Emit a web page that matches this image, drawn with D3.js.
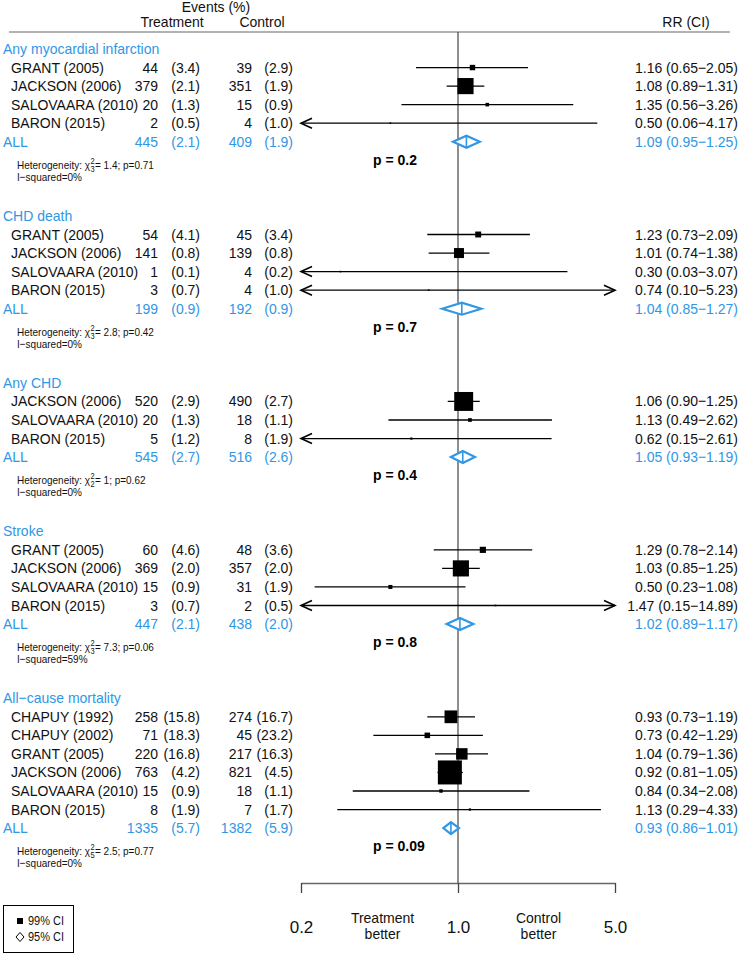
<!DOCTYPE html>
<html><head><meta charset="utf-8">
<script src="https://cdn.jsdelivr.net/npm/d3@7"></script>
<style>
body{margin:0;background:#fff}
svg{display:block}
text{font-family:"Liberation Sans",Arial,Helvetica,sans-serif}
</style>
</head><body>
<svg id="chart" width="740" height="955"></svg>
<script>
// ---------------- DATA ----------------
const categories = ["Any myocardial infarction", "CHD death", "Any CHD", "Stroke", "All\u2212cause mortality"];
const studies = [
  ["GRANT (2005)", "JACKSON (2006)", "SALOVAARA (2010)", "BARON (2015)"],
  ["GRANT (2005)", "JACKSON (2006)", "SALOVAARA (2010)", "BARON (2015)"],
  ["JACKSON (2006)", "SALOVAARA (2010)", "BARON (2015)"],
  ["GRANT (2005)", "JACKSON (2006)", "SALOVAARA (2010)", "BARON (2015)"],
  ["CHAPUY (1992)", "CHAPUY (2002)", "GRANT (2005)", "JACKSON (2006)", "SALOVAARA (2010)", "BARON (2015)"]
];
const trtEvents = [[44, 379, 20, 2], [54, 141, 1, 3], [520, 20, 5], [60, 369, 15, 3], [258, 71, 220, 763, 15, 8]];
const trtPct    = [[3.4, 2.1, 1.3, 0.5], [4.1, 0.8, 0.1, 0.7], [2.9, 1.3, 1.2], [4.6, 2.0, 0.9, 0.7], [15.8, 18.3, 16.8, 4.2, 0.9, 1.9]];
const ctlEvents = [[39, 351, 15, 4], [45, 139, 4, 4], [490, 18, 8], [48, 357, 31, 2], [274, 45, 217, 821, 18, 7]];
const ctlPct    = [[2.9, 1.9, 0.9, 1.0], [3.4, 0.8, 0.2, 1.0], [2.7, 1.1, 1.9], [3.6, 2.0, 1.9, 0.5], [16.7, 23.2, 16.3, 4.5, 1.1, 1.7]];
const rr        = [[1.16, 1.08, 1.35, 0.50], [1.23, 1.01, 0.30, 0.74], [1.06, 1.13, 0.62], [1.29, 1.03, 0.50, 1.47], [0.93, 0.73, 1.04, 0.92, 0.84, 1.13]];
const rrLo      = [[0.65, 0.89, 0.56, 0.06], [0.73, 0.74, 0.03, 0.10], [0.90, 0.49, 0.15], [0.78, 0.85, 0.23, 0.15], [0.73, 0.42, 0.79, 0.81, 0.34, 0.29]];
const rrHi      = [[2.05, 1.31, 3.26, 4.17], [2.09, 1.38, 3.07, 5.23], [1.25, 2.62, 2.61], [2.14, 1.25, 1.08, 14.89], [1.19, 1.29, 1.36, 1.05, 2.08, 4.33]];
const weights   = [[11.6, 103, 5.0, 0.9], [13.9, 39.6, 0.7, 1.0], [142, 5.5, 1.9], [15.1, 103, 6.4, 0.7], [64.3, 12.2, 52, 228, 4.7, 2.1]];

const allTrt    = [445, 199, 545, 447, 1335];
const allTrtPct = [2.1, 0.9, 2.7, 2.1, 5.7];
const allCtl    = [409, 192, 516, 438, 1382];
const allCtlPct = [1.9, 0.9, 2.6, 2.0, 5.9];
const pooledRR  = [1.09, 1.04, 1.05, 1.02, 0.93];
const pooledLo  = [0.95, 0.85, 0.93, 0.89, 0.86];
const pooledHi  = [1.25, 1.27, 1.19, 1.17, 1.01];
const pValues   = ["0.2", "0.7", "0.4", "0.8", "0.09"];
const hetChi    = ["1.4", "2.8", "1", "7.3", "2.5"];
const hetDf     = [3, 3, 2, 3, 5];
const hetP      = ["0.71", "0.42", "0.62", "0.06", "0.77"];
const iSquared  = [0, 0, 0, 59, 0];

const axisTicks = [0.2, 1.0, 5.0];
const axisDomain = [0.2, 5];
const betterLabels = [["Treatment", "better"], ["Control", "better"]];
const legendItems = ["99% CI", "95% CI"];

// ---------------- LAYOUT ----------------
const BLUE = "#2f97e6";
const svg = d3.select("#chart");
const x = d3.scaleLog().domain(axisDomain).range([301, 615]);
const rowY = d3.scaleLinear().domain([0, 1]).range([49, 49 + 18.55]);
const boxSize = d3.scaleSqrt().domain([0, 228]).range([0, 24]);
const fmt1 = d3.format(".1f"), fmt2 = d3.format(".2f");
const rrText = (a, l, h) => `${fmt2(a)} (${fmt2(l)}\u2212${fmt2(h)})`;

const COL = {cat: 3, study: 11, tN: 158, tP: 200, cN: 252, cP: 293, rr: 738, p: 373};
const AXIS_Y = 883, TOP_Y = 32;

// text helper: narrow-looking face => stretch glyphs vertically a little
function txt(parent, xx, yy, s, anchor, color, size, weight, sy) {
  size = size || 14;
  sy = sy || (size >= 13 ? 1.07 : 1.18);
  return parent.append("text").attr("x", 0).attr("y", 0)
    .attr("transform", `translate(${xx},${yy}) scale(1,${sy})`)
    .attr("text-anchor", anchor || "start")
    .attr("fill", color || "#111").attr("font-size", size).attr("font-weight", weight || null).text(s);
}

// header
const hdr = svg.append("g");
txt(hdr, 216, 12, "Events (%)", "middle");
txt(hdr, 172, 27, "Treatment", "middle");
txt(hdr, 262, 27, "Control", "middle");
txt(hdr, 686, 27, "RR (CI)", "middle");
svg.append("line").attr("x1", 9).attr("x2", 730).attr("y1", TOP_Y).attr("y2", TOP_Y)
  .attr("stroke", "#666").attr("stroke-width", 1.2);

// reference line at 1
svg.append("line").attr("x1", x(1)).attr("x2", x(1)).attr("y1", TOP_Y).attr("y2", AXIS_Y)
  .attr("stroke", "#444").attr("stroke-width", 1.2);

const g = svg.append("g");

function drawArrow(parent, xt, yc, dir) {
  parent.append("path")
    .attr("d", `M${xt - dir * 11},${yc - 5}L${xt},${yc}L${xt - dir * 11},${yc + 5}`)
    .attr("fill", "none").attr("stroke", "#000").attr("stroke-width", 1.6);
}

let row = 0;
categories.forEach((cat, ci) => {
  const base = 5;
  txt(g, COL.cat, rowY(row) + base, cat, "start", BLUE);
  studies[ci].forEach((s, si) => {
    const r = row + 1 + si;
    const yc = rowY(r);
    txt(g, COL.study, yc + base, s);
    txt(g, COL.tN, yc + base, trtEvents[ci][si], "end");
    txt(g, COL.tP, yc + base, `(${fmt1(trtPct[ci][si])})`, "end");
    txt(g, COL.cN, yc + base, ctlEvents[ci][si], "end");
    txt(g, COL.cP, yc + base, `(${fmt1(ctlPct[ci][si])})`, "end");
    txt(g, COL.rr, yc + base, rrText(rr[ci][si], rrLo[ci][si], rrHi[ci][si]), "end");
    const lo = rrLo[ci][si], hi = rrHi[ci][si];
    const xl = x(Math.max(lo, axisDomain[0])), xh = x(Math.min(hi, axisDomain[1]));
    g.append("line").attr("x1", xl).attr("x2", xh).attr("y1", yc).attr("y2", yc)
      .attr("stroke", "#000").attr("stroke-width", 1.3);
    if (lo < axisDomain[0]) drawArrow(g, xl, yc, -1);
    if (hi > axisDomain[1]) drawArrow(g, xh, yc, 1);
    const sz = Math.max(1.6, boxSize(weights[ci][si]));
    g.append("rect").attr("x", x(rr[ci][si]) - sz / 2).attr("y", yc - sz / 2)
      .attr("width", sz).attr("height", sz).attr("fill", "#000");
  });
  const ra = row + studies[ci].length + 1;
  const ya = rowY(ra);
  txt(g, COL.cat, ya + base, "ALL", "start", BLUE);
  txt(g, COL.tN, ya + base, allTrt[ci], "end", BLUE);
  txt(g, COL.tP, ya + base, `(${fmt1(allTrtPct[ci])})`, "end", BLUE);
  txt(g, COL.cN, ya + base, allCtl[ci], "end", BLUE);
  txt(g, COL.cP, ya + base, `(${fmt1(allCtlPct[ci])})`, "end", BLUE);
  txt(g, COL.rr, ya + base, rrText(pooledRR[ci], pooledLo[ci], pooledHi[ci]), "end", BLUE);
  // diamond
  const xe = x(pooledRR[ci]), xl = x(pooledLo[ci]), xh = x(pooledHi[ci]), hh = 6;
  g.append("path").attr("d", `M${xl},${ya}L${xe},${ya - hh}L${xh},${ya}L${xe},${ya + hh}Z`)
    .attr("fill", "#fff").attr("stroke", BLUE).attr("stroke-width", 2.2).attr("stroke-linejoin", "miter");
  g.append("line").attr("x1", xe).attr("x2", xe).attr("y1", ya - hh).attr("y2", ya + hh)
    .attr("stroke", BLUE).attr("stroke-width", 1.6);
  // p value
  txt(g, COL.p, ya + 23, `p = ${pValues[ci]}`, "start", "#000", 14, "bold");
  // heterogeneity
  const hy = ya + 27;
  const t1 = txt(g, 17, hy, "Heterogeneity: \u03c7", "start", "#111", 10);
  const w1 = t1.node().getComputedTextLength();
  txt(g, 17 + w1 + 0.5, hy - 5, "2", "start", "#111", 7.5, null, 1.1);
  txt(g, 17 + w1 + 0.5, hy + 3, String(hetDf[ci]), "start", "#111", 7.5, null, 1.1);
  txt(g, 17 + w1 + 5, hy, `= ${hetChi[ci]}; p=${hetP[ci]}`, "start", "#111", 10);
  txt(g, 17, hy + 12, `I\u2212squared=${iSquared[ci]}%`, "start", "#111", 10);
  row = ra + 4;
});

// axis
const axis = d3.axisBottom(x).tickValues(axisTicks).tickFormat(d3.format(".1f"))
  .tickSize(10).tickSizeOuter(0).tickPadding(28);
const ax = svg.append("g").attr("transform", `translate(0,${AXIS_Y})`).call(axis);
ax.select(".domain").attr("stroke", "#666").attr("stroke-width", 1.5);
ax.selectAll(".tick line").attr("stroke", "#444").attr("stroke-width", 1.3);
ax.selectAll(".tick text").attr("font-size", 17).attr("fill", "#111")
  .attr("font-family", '"Liberation Sans",Arial,Helvetica,sans-serif');

// better labels
const betterX = [Math.sqrt(axisTicks[0] * axisTicks[1]), Math.sqrt(axisTicks[1] * axisTicks[2])];
betterLabels.forEach((lines, i) => {
  lines.forEach((s, j) => {
    txt(svg, x(betterX[i]) + (i === 0 ? 3 : 2), 923 + j * 16, s, "middle", "#111", 14);
  });
});

// legend
const lg = svg.append("g");
lg.append("rect").attr("x", 3.5).attr("y", 905.5).attr("width", 70).attr("height", 47)
  .attr("fill", "none").attr("stroke", "#000").attr("stroke-width", 1);
lg.append("rect").attr("x", 17).attr("y", 918).attr("width", 6).attr("height", 6).attr("fill", "#000");
lg.append("path").attr("d", "M16,937L20,932.5L24,937L20,941.5Z").attr("fill", "none")
  .attr("stroke", "#000").attr("stroke-width", 1);
legendItems.forEach((s, i) => txt(lg, 28, 925 + i * 16, s, "start", "#111", 11, null, 1.15));
</script>
</body></html>
